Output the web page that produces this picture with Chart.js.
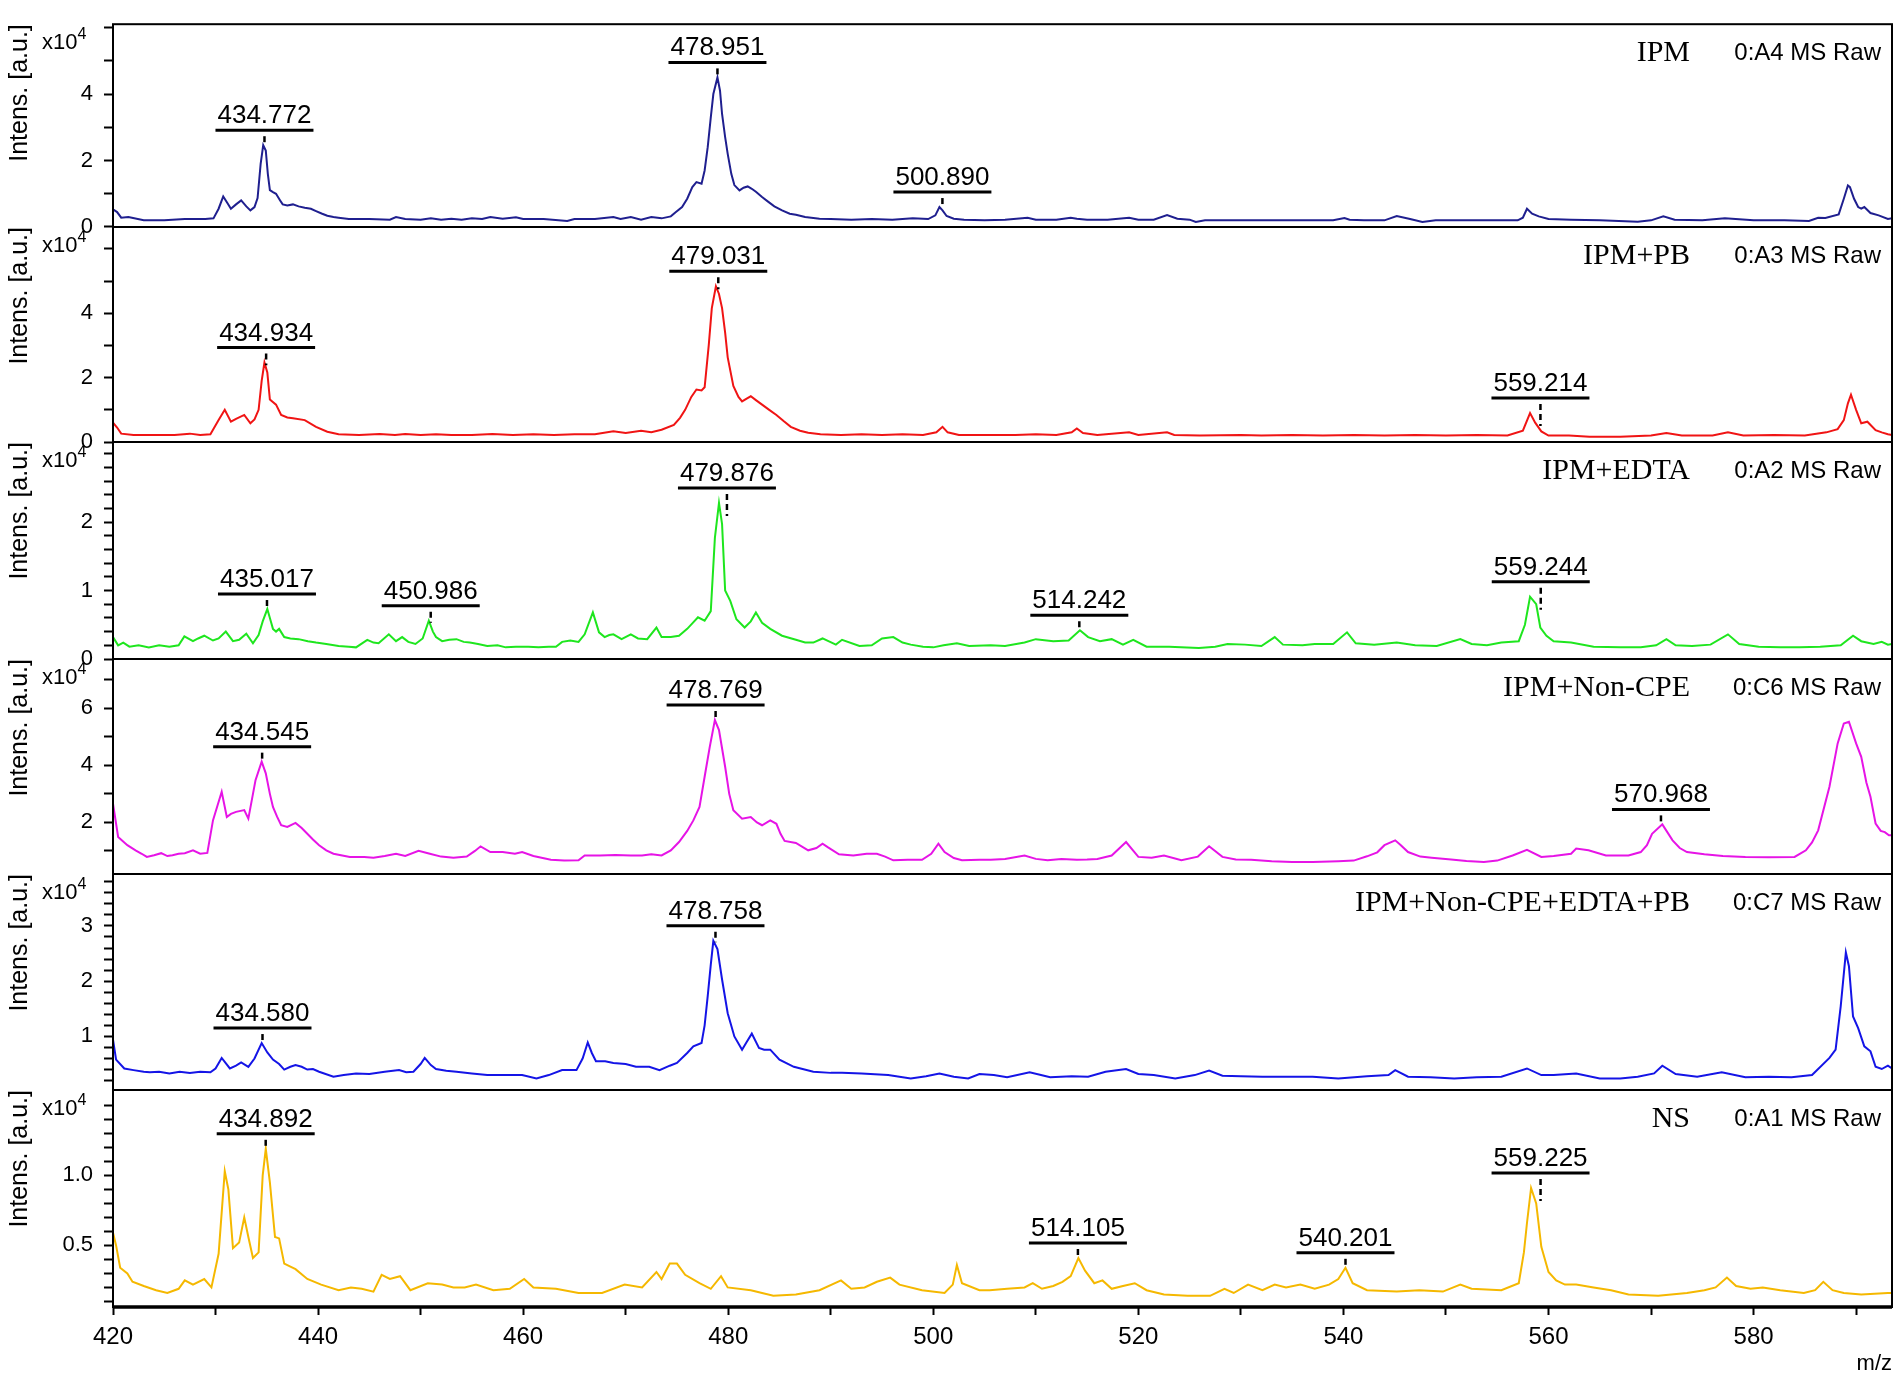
<!DOCTYPE html>
<html>
<head>
<meta charset="utf-8">
<script src="https://cdn.jsdelivr.net/npm/chart.js@4.4.1/dist/chart.umd.min.js"></script>
<style>
  html, body { margin: 0; padding: 0; background: #fff; }
  #wrap { position: relative; width: 1902px; height: 1381px; }
  #wrap canvas { position: absolute; left: 0; top: 0; }
</style>
</head>
<body>
<div id="wrap"></div>
<script>
// m/z vs intensity (x10^4)
const ipm = [[420,0.53],[420.4,0.45],[420.8,0.28],[421.5,0.3],[423,0.2],[425,0.2],[427,0.24],[429,0.24],[429.8,0.26],[430.3,0.55],[430.75,0.92],[431.2,0.7],[431.5,0.55],[432,0.68],[432.5,0.8],[433,0.62],[433.4,0.5],[433.8,0.6],[434.1,0.87],[434.4,1.9],[434.65,2.46],[434.9,2.3],[435.1,1.6],[435.3,1.11],[435.6,1.05],[435.9,1.0],[436.3,0.8],[436.55,0.68],[437,0.65],[437.55,0.68],[438.1,0.62],[438.7,0.58],[439.3,0.55],[439.8,0.48],[440.4,0.4],[440.9,0.34],[441.5,0.3],[442,0.28],[443,0.24],[445,0.24],[447,0.22],[447.6,0.3],[448.5,0.24],[450,0.22],[451,0.26],[452,0.22],[453,0.25],[454,0.22],[455,0.26],[456,0.24],[456.8,0.3],[458,0.25],[459.3,0.29],[460,0.24],[462,0.24],[464.3,0.18],[465,0.24],[467,0.24],[468.8,0.3],[469.5,0.24],[470.5,0.3],[471.5,0.22],[472.5,0.3],[473.5,0.26],[474.4,0.32],[474.9,0.45],[475.5,0.6],[476,0.85],[476.5,1.2],[476.9,1.35],[477.4,1.3],[477.7,1.7],[478,2.4],[478.3,3.3],[478.55,4.0],[478.95,4.5],[479.2,4.1],[479.4,3.4],[479.7,2.7],[479.95,2.2],[480.3,1.6],[480.6,1.26],[481.1,1.1],[481.5,1.18],[481.9,1.22],[482.3,1.15],[482.7,1.06],[483.3,0.9],[483.85,0.77],[484.5,0.62],[485.25,0.5],[486,0.4],[486.6,0.37],[487.5,0.3],[488.9,0.25],[490,0.24],[492,0.22],[494,0.24],[496,0.22],[498,0.26],[499.5,0.24],[500.2,0.35],[500.6,0.6],[500.9,0.5],[501.3,0.33],[502,0.25],[503,0.22],[505,0.2],[507,0.22],[509.2,0.28],[510,0.22],[512,0.22],[513.4,0.28],[514,0.25],[515,0.22],[517,0.22],[519.1,0.28],[520,0.22],[521.5,0.22],[522.8,0.36],[523.8,0.25],[525,0.22],[525.6,0.15],[526.5,0.2],[528,0.2],[530,0.2],[533,0.2],[536,0.2],[539,0.2],[540.1,0.27],[540.6,0.22],[542,0.2],[544,0.2],[545.2,0.33],[546.5,0.24],[547.7,0.15],[549,0.2],[552,0.2],[555,0.2],[557,0.2],[557.5,0.28],[557.9,0.55],[558.4,0.4],[559.05,0.32],[560,0.24],[562.2,0.22],[565,0.2],[568.7,0.16],[570,0.2],[571.2,0.32],[572.3,0.22],[575,0.2],[577.2,0.26],[580,0.2],[583,0.2],[585.4,0.18],[586.3,0.28],[587,0.27],[588.3,0.38],[588.8,0.85],[589.2,1.25],[589.4,1.2],[589.8,0.85],[590.2,0.6],[590.5,0.55],[590.8,0.6],[591.4,0.42],[592.2,0.35],[593.1,0.24],[593.5,0.26]];

const ipmPb = [[420,0.6],[420.4,0.45],[420.8,0.26],[422,0.22],[424,0.22],[426,0.22],[427.5,0.26],[428.5,0.22],[429.5,0.24],[430.3,0.68],[430.9,1.0],[431.5,0.63],[432,0.72],[432.8,0.84],[433.4,0.58],[433.8,0.7],[434.2,1.0],[434.5,1.9],[434.77,2.47],[435.05,2.16],[435.3,1.32],[435.9,1.16],[436.4,0.84],[437,0.76],[437.55,0.74],[438.7,0.68],[439.8,0.47],[440.9,0.32],[442,0.24],[444,0.22],[446,0.25],[447.5,0.22],[448.5,0.25],[450,0.22],[451.5,0.24],[453,0.22],[455,0.22],[457,0.25],[459,0.22],[461,0.24],[463,0.22],[465,0.24],[467,0.24],[468.8,0.33],[470,0.28],[471.5,0.35],[472.5,0.3],[473.5,0.38],[474.7,0.53],[475.3,0.75],[475.8,1.0],[476.4,1.4],[476.9,1.63],[477.4,1.6],[477.7,1.7],[478.1,3.0],[478.4,4.16],[478.8,4.84],[479.1,4.6],[479.4,4.16],[479.7,3.4],[479.95,2.63],[480.5,1.74],[481,1.4],[481.35,1.26],[481.8,1.35],[482.2,1.42],[482.7,1.3],[483.3,1.16],[484,1.0],[484.7,0.84],[485.4,0.65],[486.1,0.47],[487,0.35],[487.8,0.29],[489,0.24],[491,0.22],[493,0.24],[495,0.22],[497,0.24],[499,0.22],[500.3,0.3],[500.9,0.47],[501.4,0.3],[502.5,0.22],[505,0.22],[508,0.22],[510,0.24],[512,0.22],[513.5,0.3],[514,0.42],[514.6,0.28],[516,0.22],[519.1,0.3],[520,0.22],[522.8,0.3],[523.5,0.22],[526,0.2],[530,0.22],[532,0.2],[535,0.22],[538,0.2],[541,0.22],[544,0.2],[547,0.22],[550,0.2],[553,0.22],[556,0.2],[557.5,0.35],[558.2,0.9],[558.7,0.6],[559.3,0.33],[560,0.2],[562,0.2],[564,0.16],[567,0.16],[570,0.2],[571.5,0.28],[573,0.2],[576,0.2],[577.5,0.3],[579,0.2],[582,0.22],[585,0.2],[587.1,0.3],[588.2,0.4],[588.8,0.68],[589.2,1.2],[589.5,1.47],[590,1.0],[590.5,0.58],[591.1,0.63],[591.9,0.37],[592.5,0.3],[593.1,0.24],[593.5,0.22]];

const ipmEdta = [[420,0.32],[420.5,0.2],[421,0.24],[421.6,0.18],[422.5,0.2],[423.5,0.17],[424.5,0.2],[425.5,0.18],[426.4,0.2],[426.96,0.33],[427.8,0.26],[428.3,0.3],[428.9,0.34],[429.75,0.27],[430.3,0.3],[431,0.4],[431.7,0.26],[432.3,0.28],[433,0.37],[433.65,0.23],[434.2,0.35],[434.6,0.55],[435.05,0.73],[435.3,0.6],[435.6,0.44],[435.9,0.4],[436.2,0.44],[436.7,0.32],[437.3,0.3],[438.1,0.29],[439,0.26],[439.8,0.24],[440.8,0.22],[442,0.19],[443,0.18],[443.7,0.17],[444.8,0.28],[445.4,0.24],[445.9,0.23],[446.9,0.36],[447.6,0.26],[448.2,0.32],[448.8,0.25],[449.5,0.22],[450.2,0.3],[450.8,0.56],[451.2,0.4],[451.5,0.32],[452.1,0.26],[452.8,0.28],[453.5,0.29],[454.2,0.25],[454.8,0.24],[455.6,0.22],[456.5,0.19],[457.5,0.2],[458.3,0.17],[459.3,0.18],[460.5,0.18],[461.5,0.17],[462.5,0.18],[463.2,0.18],[463.8,0.25],[464.6,0.27],[465.4,0.25],[466,0.36],[466.8,0.68],[467.4,0.39],[467.95,0.32],[468.4,0.35],[468.8,0.36],[469.6,0.29],[470.5,0.36],[471.2,0.3],[472.1,0.29],[473,0.46],[473.5,0.32],[474.4,0.32],[475.2,0.34],[476,0.44],[476.5,0.52],[477.05,0.61],[477.7,0.56],[478.3,0.7],[478.7,1.77],[479.1,2.28],[479.4,1.97],[479.7,1.0],[480.2,0.85],[480.8,0.58],[481.6,0.46],[482.2,0.55],[482.7,0.68],[483.3,0.53],[484.1,0.44],[485.25,0.34],[486.6,0.28],[487.5,0.24],[488.3,0.24],[489.2,0.3],[490.5,0.21],[491.1,0.28],[492.8,0.19],[494,0.2],[495,0.3],[496.1,0.32],[497,0.24],[497.8,0.21],[499,0.18],[500,0.17],[501,0.2],[502.3,0.23],[503.5,0.19],[505.6,0.2],[507,0.19],[508.9,0.24],[510,0.29],[511.7,0.26],[513.2,0.27],[514.3,0.42],[515.1,0.32],[516.25,0.26],[517.4,0.29],[518.5,0.21],[519.5,0.28],[520.8,0.18],[523,0.18],[525.9,0.16],[527.5,0.18],[528.7,0.22],[530.4,0.21],[532,0.19],[533.3,0.32],[534.1,0.21],[536,0.2],[537.2,0.22],[539,0.22],[540.35,0.39],[541.2,0.23],[543,0.21],[545.2,0.24],[547,0.2],[549.1,0.19],[551.4,0.29],[552.5,0.22],[554,0.2],[555.4,0.24],[557.1,0.26],[557.7,0.5],[558.2,0.91],[558.8,0.8],[559.2,0.46],[559.8,0.34],[560.5,0.26],[562.2,0.24],[564.4,0.18],[567,0.17],[569,0.17],[570.5,0.2],[571.5,0.29],[572.4,0.2],[574,0.19],[575.8,0.21],[577.5,0.36],[578.6,0.22],[580.5,0.18],[582.6,0.17],[584.5,0.17],[586.5,0.18],[588.5,0.2],[589.7,0.34],[590.5,0.26],[591.7,0.22],[592.5,0.25],[593.1,0.21],[593.5,0.22]];

const ipmNonCpe = [[420,2.66],[420.5,1.49],[421.4,1.2],[422.2,1.02],[422.8,0.9],[423.3,0.79],[424,0.85],[424.7,0.92],[425.3,0.82],[425.8,0.85],[426.4,0.9],[427,0.92],[427.8,1.02],[428.5,0.9],[429.2,0.93],[429.75,2.07],[430.2,2.6],[430.6,3.07],[431.1,2.19],[431.5,2.3],[432,2.37],[432.8,2.43],[433.2,2.13],[433.9,3.48],[434.5,4.13],[434.9,3.72],[435.3,3.0],[435.6,2.54],[436,2.2],[436.4,1.9],[437,1.84],[437.8,1.98],[438.4,1.8],[438.95,1.6],[439.5,1.4],[440.1,1.2],[440.8,1.02],[441.5,0.9],[443.1,0.79],[444.5,0.79],[445.4,0.76],[446.5,0.82],[447.6,0.9],[448.5,0.82],[449.8,1.0],[450.9,0.9],[452,0.8],[453.2,0.76],[454.5,0.8],[455.3,1.0],[455.85,1.16],[456.8,0.96],[458,0.96],[459.2,0.9],[459.9,0.96],[461,0.82],[462.7,0.69],[464,0.66],[465.4,0.67],[466,0.84],[467.5,0.84],[469,0.86],[470.5,0.84],[471.6,0.84],[472.5,0.88],[473.5,0.84],[474.4,1.02],[475.2,1.31],[476,1.7],[476.6,2.07],[477.2,2.54],[477.7,3.6],[478.2,4.65],[478.7,5.59],[479.1,5.24],[479.7,3.95],[480.1,3.0],[480.5,2.43],[481.35,2.13],[482.2,2.19],[482.8,2.0],[483.3,1.9],[484.1,2.07],[484.7,1.95],[485.1,1.6],[485.5,1.35],[486.6,1.28],[487.8,1.02],[488.6,1.1],[489.2,1.25],[489.7,1.13],[490.8,0.88],[492.2,0.84],[493.5,0.9],[494.5,0.9],[495.3,0.8],[496.1,0.67],[497.5,0.69],[498.9,0.69],[499.8,0.9],[500.5,1.25],[501.1,0.96],[502,0.75],[502.8,0.67],[504.5,0.69],[505.6,0.69],[507,0.72],[508.9,0.84],[510,0.72],[511.15,0.67],[512.5,0.72],[514,0.69],[515,0.7],[516,0.72],[517.4,0.84],[518.8,1.31],[520,0.79],[521.3,0.76],[522.5,0.84],[524.2,0.67],[525.8,0.8],[526.9,1.16],[528.2,0.79],[529.5,0.7],[531,0.69],[533,0.64],[535,0.61],[537,0.61],[539.5,0.64],[541,0.66],[542.3,0.81],[543.3,0.95],[544,1.2],[545.05,1.37],[545.6,1.2],[546.3,0.96],[547.5,0.8],[548.6,0.76],[550.5,0.7],[552,0.65],[553.7,0.61],[555,0.66],[556.5,0.84],[557.9,1.04],[559.3,0.79],[560.5,0.82],[562.2,0.9],[562.7,1.08],[563.9,1.02],[565.6,0.84],[567.8,0.84],[569,0.96],[569.6,1.2],[570.1,1.6],[571.1,1.93],[572.1,1.37],[572.8,1.1],[573.5,0.96],[575.2,0.88],[577,0.82],[579.2,0.79],[581.5,0.78],[584,0.79],[585.1,1.02],[585.7,1.3],[586.3,1.72],[587.4,3.25],[588.2,4.77],[588.8,5.47],[589.3,5.53],[590,4.77],[590.5,4.3],[591,3.4],[591.4,2.9],[591.9,1.96],[592.4,1.7],[592.8,1.66],[593.2,1.55],[593.5,1.55]];

const ipmMix = [[420,0.94],[420.3,0.58],[421.1,0.42],[422,0.39],[423,0.36],[423.6,0.35],[424.5,0.36],[425.5,0.33],[426.5,0.36],[427.5,0.34],[428.5,0.36],[429.5,0.35],[430,0.42],[430.6,0.61],[431.4,0.42],[432,0.47],[432.5,0.53],[433.2,0.45],[433.8,0.6],[434.5,0.88],[435.05,0.71],[435.6,0.58],[436.2,0.5],[436.7,0.4],[437.3,0.45],[437.8,0.48],[438.4,0.45],[438.95,0.4],[439.5,0.41],[440.1,0.36],[441.5,0.27],[442.5,0.3],[443.7,0.33],[445,0.32],[446.5,0.36],[447.9,0.39],[448.6,0.35],[449.3,0.36],[450,0.5],[450.4,0.61],[451,0.48],[451.5,0.41],[452.5,0.38],[453.5,0.36],[455,0.33],[456.5,0.3],[458,0.3],[459.9,0.3],[461.3,0.24],[462.5,0.3],[463.8,0.39],[465.2,0.39],[465.8,0.6],[466.3,0.89],[466.7,0.7],[467.1,0.55],[468,0.55],[468.8,0.52],[470,0.5],[471,0.45],[472.3,0.45],[473.3,0.39],[474.3,0.47],[475,0.52],[476,0.7],[476.6,0.82],[477.4,0.88],[477.7,1.2],[478,1.73],[478.3,2.3],[478.55,2.73],[478.95,2.58],[479.4,2.03],[479.95,1.42],[480.6,1.0],[481.35,0.76],[481.8,0.9],[482.3,1.05],[483,0.79],[483.5,0.76],[484.1,0.76],[485,0.58],[486.4,0.45],[488.3,0.36],[490,0.34],[491.1,0.34],[493,0.33],[495.6,0.3],[497.8,0.24],[499.3,0.28],[500.6,0.33],[502,0.27],[503.4,0.24],[504.5,0.32],[505.9,0.3],[507.2,0.26],[509.4,0.35],[511.4,0.26],[513.5,0.28],[515.1,0.27],[516.8,0.36],[518.8,0.41],[520,0.32],[521.5,0.3],[523.6,0.24],[525.5,0.3],[526.9,0.38],[528.2,0.29],[530,0.28],[532.1,0.27],[535,0.27],[537,0.27],[539.5,0.24],[542.3,0.28],[544.4,0.3],[545.05,0.39],[546.3,0.27],[548.5,0.26],[550.8,0.24],[553,0.26],[555.4,0.27],[557.9,0.42],[559.3,0.3],[560.5,0.3],[562.7,0.33],[565,0.24],[567,0.24],[568.7,0.27],[570.3,0.33],[571.1,0.47],[572.4,0.32],[574.5,0.27],[576.9,0.35],[579.2,0.26],[581.5,0.27],[583.7,0.26],[585.7,0.3],[587.4,0.61],[588,0.76],[588.5,1.55],[589,2.52],[589.3,2.27],[589.7,1.36],[590.2,1.15],[590.8,0.82],[591.4,0.73],[591.9,0.45],[592.5,0.41],[593.1,0.47],[593.5,0.42]];

const ns = [[420,0.59],[420.3,0.5],[420.7,0.34],[421.4,0.3],[421.9,0.24],[423,0.21],[424.2,0.18],[425.3,0.16],[426.4,0.19],[427,0.25],[427.8,0.22],[428.9,0.26],[429.6,0.2],[430.3,0.44],[430.9,1.03],[431.25,0.9],[431.7,0.48],[432.3,0.52],[432.8,0.7],[433.2,0.56],[433.65,0.41],[434.2,0.45],[434.6,1.0],[434.9,1.19],[435.3,0.95],[435.8,0.56],[436.2,0.55],[436.7,0.37],[437.8,0.33],[438.95,0.26],[440.3,0.22],[442,0.18],[443.2,0.2],[444.25,0.19],[445.4,0.17],[446.2,0.29],[447,0.26],[448,0.28],[449,0.18],[450.7,0.23],[452.1,0.22],[453.2,0.2],[454.3,0.2],[455.4,0.22],[457.1,0.18],[458.7,0.19],[460.1,0.26],[461,0.2],[463.2,0.19],[465.4,0.16],[467.7,0.16],[469.9,0.22],[471.6,0.2],[473,0.31],[473.5,0.26],[474.3,0.37],[475,0.37],[475.8,0.29],[477.2,0.23],[478.3,0.19],[479.3,0.28],[479.95,0.2],[482.2,0.18],[484.4,0.14],[486.6,0.15],[488.9,0.18],[491,0.25],[492,0.19],[493.3,0.2],[494.5,0.24],[495.8,0.27],[496.7,0.22],[498.9,0.18],[501.1,0.16],[501.9,0.22],[502.3,0.36],[502.8,0.23],[504.5,0.18],[505.5,0.18],[507.2,0.19],[508.9,0.2],[509.7,0.23],[510.6,0.19],[511.7,0.21],[512.6,0.24],[513.4,0.28],[514.15,0.41],[514.8,0.32],[515.7,0.23],[516.5,0.25],[517.4,0.19],[518.5,0.21],[519.65,0.23],[520.8,0.18],[522.5,0.15],[524.8,0.14],[527,0.14],[528.4,0.19],[529.3,0.16],[530.7,0.22],[532.1,0.18],[533.3,0.22],[534.4,0.2],[535.8,0.22],[537.2,0.19],[538.6,0.22],[539.5,0.26],[540.2,0.34],[540.9,0.23],[542.3,0.18],[545.2,0.17],[547.4,0.18],[549.7,0.17],[551.4,0.22],[552.5,0.19],[555.4,0.18],[557.1,0.23],[557.6,0.45],[557.9,0.66],[558.3,0.91],[558.8,0.8],[559.3,0.49],[560,0.31],[560.75,0.25],[561.6,0.22],[562.7,0.22],[564.4,0.2],[566.1,0.18],[567.8,0.15],[570.7,0.14],[573.5,0.16],[575.2,0.18],[576.3,0.2],[577.4,0.27],[578.3,0.21],[579.7,0.19],[580.9,0.2],[582.6,0.18],[584.9,0.16],[586,0.18],[586.8,0.24],[587.7,0.18],[588.8,0.16],[590.5,0.15],[593.1,0.16],[593.5,0.16]];

const spectra = [ipm, ipmPb, ipmEdta, ipmNonCpe, ipmMix, ns];
const sampleNames = ['IPM', 'IPM+PB', 'IPM+EDTA', 'IPM+Non-CPE', 'IPM+Non-CPE+EDTA+PB', 'NS'];
const sampleTags = ['0:A4 MS Raw', '0:A3 MS Raw', '0:A2 MS Raw', '0:C6 MS Raw', '0:C7 MS Raw', '0:A1 MS Raw'];
const peakLabels = [
  ['434.772', '478.951', '500.890'],
  ['434.934', '479.031', '559.214'],
  ['435.017', '450.986', '479.876', '514.242', '559.244'],
  ['434.545', '478.769', '570.968'],
  ['434.580', '478.758'],
  ['434.892', '514.105', '540.201', '559.225']
];
const colors = ['#1f1f8f', '#f01414', '#1ee61e', '#e614e6', '#1414e6', '#f5b800'];

// axes
const xMin = 420, xMax = 593.5;
const xTicks = [420, 430, 440, 450, 460, 470, 480, 490, 500, 510, 520, 530, 540, 550, 560, 570, 580, 590];
const xLabels = [420, 440, 460, 480, 500, 520, 540, 560, 580];
const yMin = [0, 0, 0, 0.19, 0.03, 0.06];
const yMax = [6.1, 6.68, 3.17, 7.73, 3.94, 1.61];
const yTicks = [
  [0, 1, 2, 3, 4, 5, 6],
  [0, 1, 2, 3, 4, 5, 6],
  [0, 0.2, 0.4, 0.6, 0.8, 1, 1.2, 1.4, 1.6, 1.8, 2, 2.2, 2.4, 2.6, 2.8, 3],
  [1, 2, 3, 4, 5, 6, 7],
  [0.2, 0.4, 0.6, 0.8, 1, 1.2, 1.4, 1.6, 1.8, 2, 2.2, 2.4, 2.6, 2.8, 3, 3.2, 3.4, 3.6, 3.8],
  [0.1, 0.2, 0.3, 0.4, 0.5, 0.6, 0.7, 0.8, 0.9, 1.0, 1.1, 1.2, 1.3, 1.4, 1.5]
];
const yLabels = [[0, 2, 4], [0, 2, 4], [0, 1, 2], [2, 4, 6], [1, 2, 3], [0.5, 1.0]];
const yDecimals = [0, 0, 0, 0, 0, 1];

// page layout
const W = 1902, H = 1381;
const edges = [15, 227, 442, 659, 874, 1090, 1307];
const sans = '"Liberation Sans", Arial, sans-serif';
const narrow = '"Liberation Sans Narrow", "Liberation Sans", Arial, sans-serif';

function valueAt(data, mz) {
  for (let i = 1; i < data.length; i++) {
    if (data[i].x >= mz) {
      const a = data[i - 1], b = data[i];
      return a.y + (b.y - a.y) * (mz - a.x) / (b.x - a.x);
    }
  }
  return data[data.length - 1].y;
}

const panelDecor = {
  id: 'panelDecor',
  afterDatasetsDraw(chart, args, opts) {
    const { ctx, chartArea: area, scales: { x, y } } = chart;
    const data = chart.data.datasets[0].data;
    ctx.save();
    ctx.fillStyle = '#000';
    ctx.strokeStyle = '#000';

    // peak labels with underline and dashed marker
    ctx.font = '26px ' + sans;
    ctx.textAlign = 'center';
    ctx.textBaseline = 'alphabetic';
    opts.peaks.forEach(label => {
      const mz = parseFloat(label);
      let top = Infinity;
      data.forEach(p => {
        if (Math.abs(p.x - mz) <= 1.2) top = Math.min(top, y.getPixelForValue(p.y));
      });
      const px = x.getPixelForValue(mz);
      const lineY = top - 15;
      const w = ctx.measureText(label).width;
      ctx.fillText(label, px, lineY - 7);
      ctx.lineWidth = 3;
      ctx.beginPath();
      ctx.moveTo(px - w / 2 - 2, lineY);
      ctx.lineTo(px + w / 2 + 2, lineY);
      ctx.stroke();
      // short dashed marker, running down toward the trace but kept short
      const at = y.getPixelForValue(valueAt(data, mz));
      const end = Math.min(lineY + 28, Math.max(lineY + 12, at - 3));
      ctx.lineWidth = 2.5;
      ctx.setLineDash([6, 4]);
      ctx.beginPath();
      ctx.moveTo(px, lineY + 6);
      ctx.lineTo(px, end);
      ctx.stroke();
      ctx.setLineDash([]);
    });

    // sample name and run tag
    ctx.textAlign = 'right';
    ctx.font = '30px "Liberation Serif", "Times New Roman", serif';
    ctx.fillText(opts.name, 1690, area.top + 37);
    ctx.font = '24px ' + sans;
    ctx.fillText(opts.tag, 1881, area.top + 36);

    // x10^4 multiplier
    ctx.textAlign = 'left';
    ctx.font = '22px ' + sans;
    ctx.fillText('x10', 42, area.top + 25);
    const w10 = ctx.measureText('x10').width;
    ctx.font = '16px ' + sans;
    ctx.fillText('4', 42 + w10, area.top + 15);

    // panel frame
    ctx.lineWidth = 2;
    ctx.strokeRect(area.left, area.top, area.right - area.left, area.bottom - area.top);
    if (opts.last) {
      ctx.lineWidth = 3.5;
      ctx.beginPath();
      ctx.moveTo(area.left, area.bottom);
      ctx.lineTo(area.right, area.bottom);
      ctx.stroke();
    }
    ctx.restore();
  }
};

const wrap = document.getElementById('wrap');

spectra.forEach((spec, i) => {
  const last = i === spectra.length - 1;
  const canvas = document.createElement('canvas');
  canvas.width = W;
  canvas.height = H;
  wrap.appendChild(canvas);

  new Chart(canvas.getContext('2d'), {
    type: 'line',
    data: {
      datasets: [{
        data: spec.map(p => ({ x: p[0], y: p[1] })),
        borderColor: colors[i],
        borderWidth: 2,
        pointRadius: 0,
        tension: 0,
        fill: false
      }]
    },
    options: {
      responsive: false,
      animation: false,
      devicePixelRatio: 1,
      events: [],
      layout: {
        autoPadding: false,
        padding: { top: edges[i], bottom: last ? 0 : H - edges[i + 1], left: 0, right: 10 }
      },
      plugins: {
        legend: { display: false },
        tooltip: { enabled: false },
        panelDecor: { peaks: peakLabels[i], name: sampleNames[i], tag: sampleTags[i], last: last }
      },
      scales: {
        x: {
          type: 'linear',
          min: xMin,
          max: xMax,
          display: last,
          afterBuildTicks: s => { s.ticks = xTicks.map(v => ({ value: v })); },
          afterFit: s => { s.height = last ? H - edges[6] : 0; },
          ticks: {
            autoSkip: false,
            maxRotation: 0,
            padding: 8,
            color: '#000',
            font: { family: narrow, size: 24 },
            callback: v => xLabels.includes(v) ? String(v) : ''
          },
          grid: { drawOnChartArea: false, drawTicks: true, tickLength: 8, tickWidth: 2, tickColor: '#000' },
          border: { display: false },
          title: {
            display: true,
            text: 'm/z',
            align: 'end',
            color: '#000',
            font: { family: narrow, size: 22 },
            padding: { top: 0, bottom: 4 }
          }
        },
        y: {
          type: 'linear',
          position: 'left',
          min: yMin[i],
          max: yMax[i],
          afterBuildTicks: s => { s.ticks = yTicks[i].map(v => ({ value: v })); },
          afterFit: s => { s.width = 113; },
          ticks: {
            autoSkip: false,
            padding: 11,
            color: '#000',
            font: { family: sans, size: 22 },
            callback: v => yLabels[i].some(l => Math.abs(l - v) < 1e-9) ? v.toFixed(yDecimals[i]) : ''
          },
          grid: { drawOnChartArea: false, drawTicks: true, tickLength: 9, tickWidth: 2, tickColor: '#000' },
          border: { display: false },
          title: {
            display: true,
            text: 'Intens. [a.u.]',
            align: 'end',
            color: '#000',
            font: { family: sans, size: 25 },
            padding: { top: 5, bottom: 0 }
          }
        }
      }
    },
    plugins: [panelDecor]
  });
});
</script>
</body>
</html>
